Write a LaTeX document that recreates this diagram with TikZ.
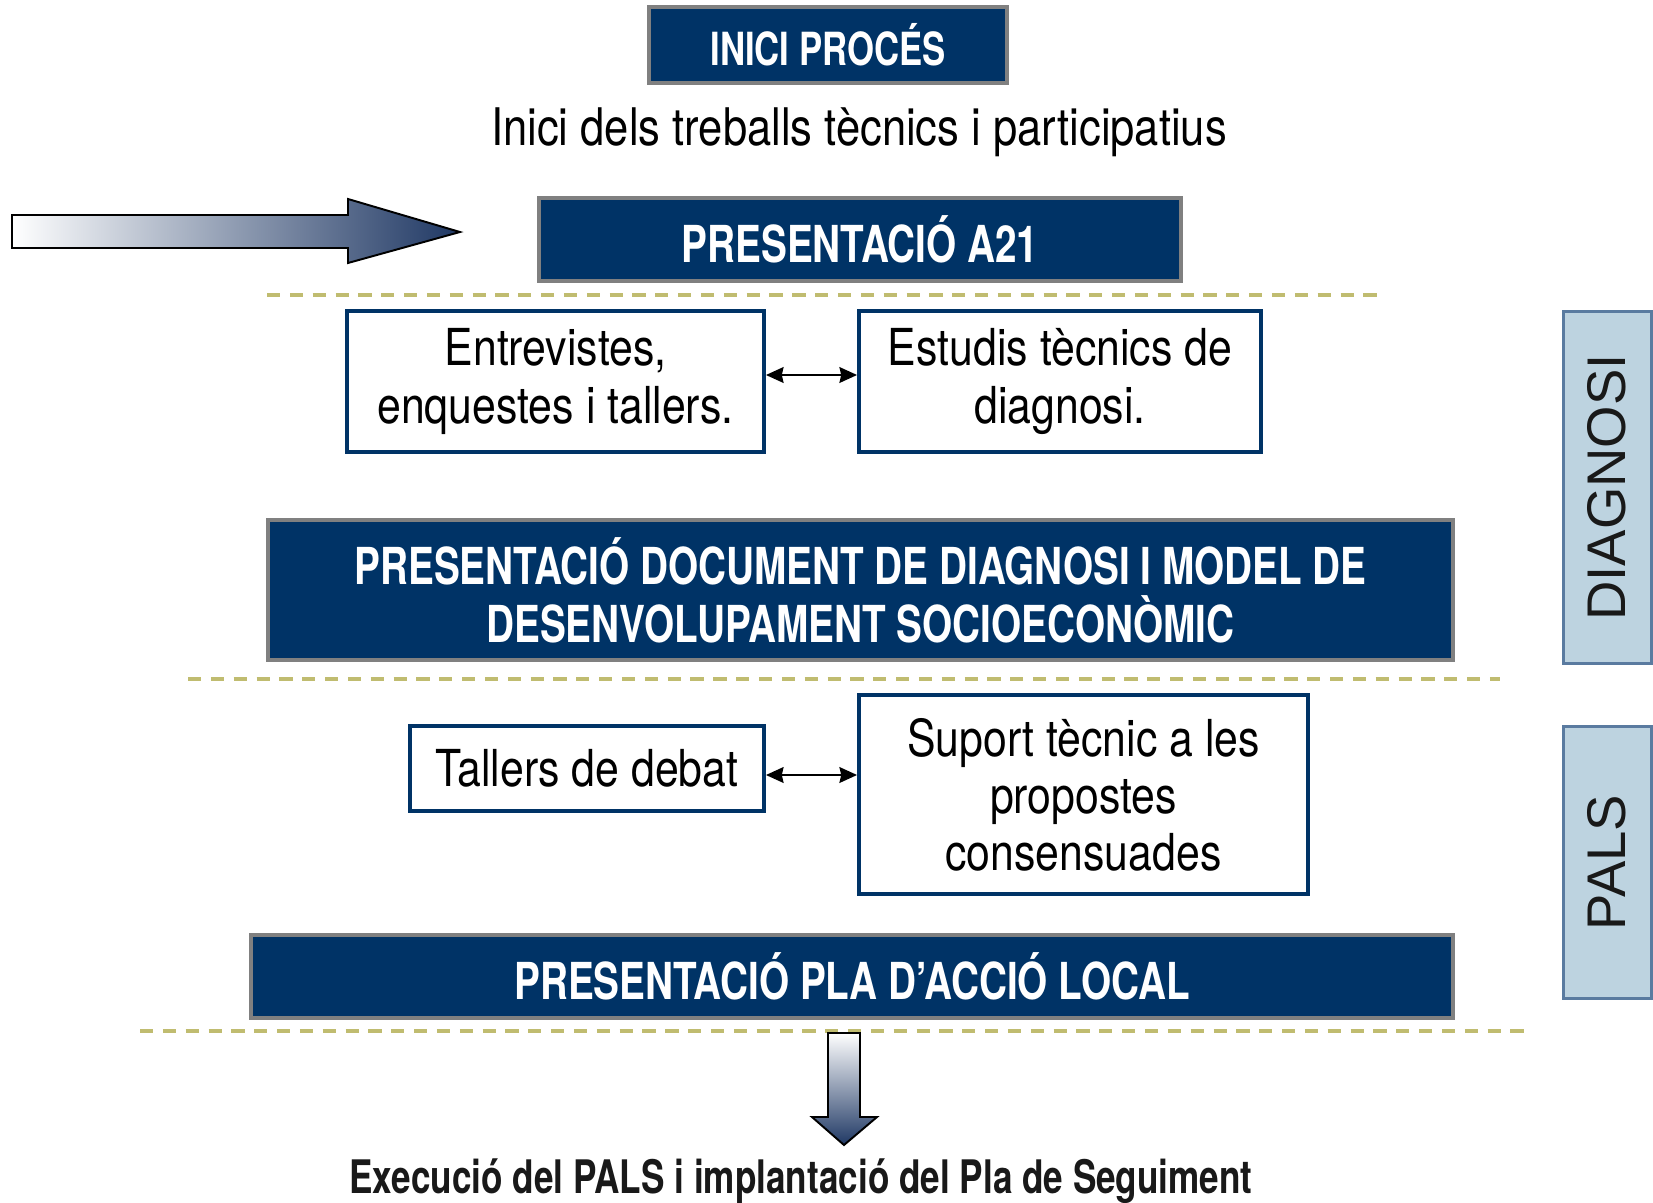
\documentclass[tikz,border=0pt]{standalone}
\usepackage{fontspec}
\setmainfont{TeX Gyre Heros}[FakeStretch=0.84,BoldFeatures={FakeStretch=0.76}]
\newfontfamily\sidefont{Liberation Sans}
\usetikzlibrary{arrows.meta}

\definecolor{navy}{HTML}{003366}
\definecolor{boxgray}{HTML}{808080}
\definecolor{khaki}{HTML}{C0BC70}
\definecolor{sideblue}{HTML}{BDD3E0}
\definecolor{sideline}{HTML}{5A7BA0}
\definecolor{arrowblue}{HTML}{1F3864}

\begin{document}
\begin{tikzpicture}[x=0.02cm,y=-0.02cm,
                    dark box/.style={draw=boxgray,line width=2.3pt,fill=navy,text=white,inner sep=0pt,
                                     align=center,font=\bfseries\fontsize{29}{33}\selectfont},
                    white box/.style={draw=navy,line width=2.3pt,fill=white,text=black,inner sep=0pt,
                                      align=center,font=\fontsize{29}{32.5}\selectfont},
                    side box/.style={draw=sideline,line width=1.7pt,fill=sideblue,inner sep=0pt,
                                     font=\sidefont\fontsize{31}{34}\selectfont,text=black!90},
                    link/.style={{Stealth[length=10pt,width=9pt,inset=1pt]}-{Stealth[length=10pt,width=9pt,inset=1pt]},line width=1.1pt},
                    separator/.style={draw=khaki,line width=1.8pt,dash pattern=on 7.5pt off 5.5pt}
                   ]
   \useasboundingbox (0,0) rectangle (1653,1203);

   % caixes principals
   \node[dark box,minimum width=7.16cm,minimum height=1.52cm,font=\bfseries\fontsize{26}{30}\selectfont] (inici) at (828,45) {INICI PROCÉS};
   \node[font=\fontsize{29.5}{33}\selectfont] (treballs) at (859,132) {Inici dels treballs tècnics i participatius};
   \node[dark box,minimum width=12.84cm,minimum height=1.66cm] (a21) at (860,239.5) {PRESENTACIÓ A21};
   \node[white box,minimum width=8.34cm,minimum height=2.82cm] (entrevistes) at (555.5,381.5) {Entrevistes,\\enquestes i tallers.};
   \node[white box,minimum width=8.04cm,minimum height=2.82cm] (estudis) at (1060,381.5) {Estudis tècnics de\\diagnosi.};
   \node[dark box,minimum width=23.7cm,minimum height=2.8cm] (document) at (860.5,590) {PRESENTACIÓ DOCUMENT DE DIAGNOSI I MODEL DE\\DESENVOLUPAMENT SOCIOECONÒMIC};
   \node[white box,minimum width=7.08cm,minimum height=1.7cm] (tallers) at (587,768.5) {Tallers de debat};
   \node[white box,minimum width=8.98cm,minimum height=3.98cm] (suport) at (1083.5,794.5) {Suport tècnic a les\\propostes\\consensuades};
   \node[dark box,minimum width=24.04cm,minimum height=1.66cm] (pla) at (852,976.5) {PRESENTACIÓ PLA D’ACCIÓ LOCAL};
   \node[font=\bfseries\fontsize{26.3}{30}\selectfont,text=black!90] (execucio) at (801,1181) {Execució del PALS i implantació del Pla de Seguiment};

   % fases
   \node[side box,rotate=90,minimum width=7.06cm,minimum height=1.76cm] (diagnosi) at (1607,487.5) {DIAGNOSI};
   \node[side box,rotate=90,minimum width=5.46cm,minimum height=1.76cm] (pals) at (1607,862.5) {PALS};

   % connexions
   \draw[link,transform canvas={yshift=0.13cm}] (entrevistes) -- (estudis);
   \draw[link,transform canvas={yshift=-0.13cm}] (tallers.east) -- (tallers.east -| suport.west);

   % separadors
   \draw[separator] (267,295) -- (1379,295);
   \draw[separator] (188,679) -- (1500,679);
   \draw[separator] (140,1031) -- (1531,1031);

   % fletxes amb degradat
   \shade[left color=white,right color=arrowblue,draw=black,line width=1.1pt]
     (12,215) -- (348,215) -- (348,199) -- (460,232) -- (348,263) -- (348,248) -- (12,248) -- cycle;
   \shade[top color=white,bottom color=arrowblue,draw=black,line width=1.1pt]
     (828,1033) -- (860,1033) -- (860,1117) -- (877,1117) -- (844,1145) -- (812,1117) -- (828,1117) -- cycle;
\end{tikzpicture}
\end{document}
